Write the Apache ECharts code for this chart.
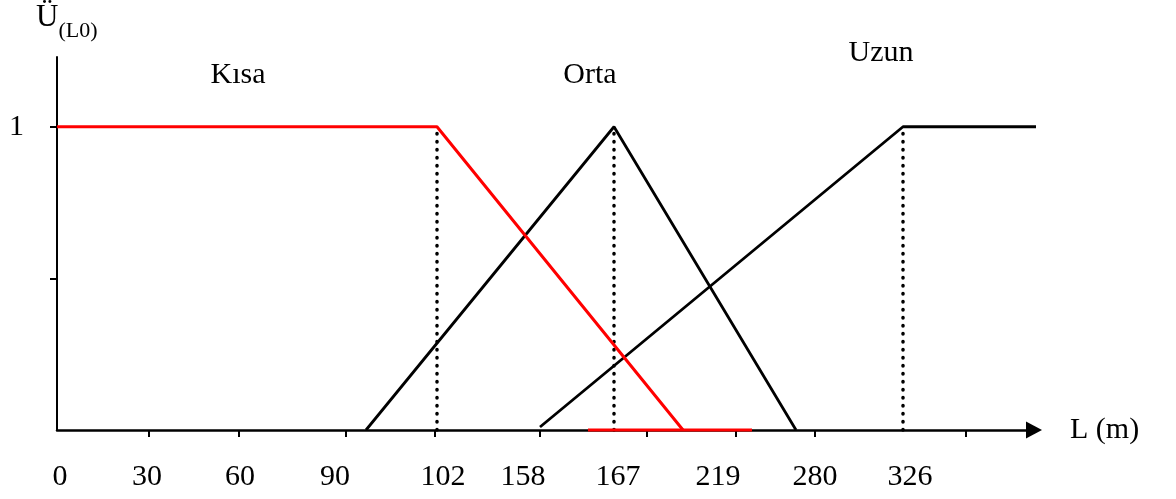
<!DOCTYPE html>
<html>
<head>
<meta charset="utf-8">
<script src="https://cdn.jsdelivr.net/npm/echarts@6/dist/echarts.min.js"></script>
<style>
html,body{margin:0;padding:0;background:#fff;}
#chart{width:1176px;height:499px;}
</style>
</head>
<body>
<div id="chart"></div>
<script>
// Schematic L axis: positions along the drawn axis (arbitrary units) and their labels
const tickLabels = ['0', '30', '60', '90', '102', '158', '167', '219', '280', '326'];
const labelPos   = [3, 90, 183, 278, 386, 466, 561, 661, 758, 853];
const tickMarkPos = [92, 182, 289, 378, 483, 590, 679, 758, 909];

// Membership functions: [position, membership]
const kisa     = [[0, 1], [380, 1], [626, 0]];
const kisaBase = [[531, 0], [695, 0]];
const orta     = [[309, 0], [557, 1], [739, 0]];
const uzun     = [[483, 0.01], [846, 1], [1027, 1]];
// Dotted guide positions (peaks / shoulders)
const guides   = [380, 557, 846];

const setNames = ['Kısa', 'Orta', 'Uzun'];

const FONT = 'Liberation Serif';
const chart = echarts.init(document.getElementById('chart'));

const option = {
  animation: false,
  backgroundColor: '#fff',
  grid: { left: 57, right: 142, top: 57, bottom: 69, containLabel: false },
  xAxis: {
    type: 'value', min: 0, max: 977,
    name: 'L (m)', nameLocation: 'end', nameGap: 36,
    nameTextStyle: { fontFamily: FONT, fontSize: 30, color: '#000', padding: [0, 0, 18, 0] },
    axisLine: { show: true, symbol: ['none', 'triangle'], symbolSize: [17, 16],
      lineStyle: { color: '#000', width: 2.5 } },
    axisTick: { show: true, length: 7, customValues: tickMarkPos, lineStyle: { color: '#000', width: 2 } },
    axisLabel: {
      customValues: labelPos, margin: 32,
      fontFamily: FONT, fontSize: 30, color: '#000',
      formatter: v => { const i = labelPos.indexOf(v); return i >= 0 ? tickLabels[i] : ''; }
    },
    splitLine: { show: false }
  },
  yAxis: {
    type: 'value', min: 0, max: 1.23,
    axisLine: { show: true, lineStyle: { color: '#000', width: 2 } },
    axisTick: { show: true, length: 7, customValues: [0.5, 1], lineStyle: { color: '#000', width: 2 } },
    axisLabel: { customValues: [1], margin: 33, fontFamily: FONT, fontSize: 30, color: '#000',
      formatter: v => String(v) },
    splitLine: { show: false }
  },
  graphic: [
    { type: 'text', left: 36, top: 2, z: 10,
      style: { text: '{a|Ü}{b|(L0)}', fill: '#000',
        rich: {
          a: { fontFamily: FONT, fontSize: 31, lineHeight: 40, verticalAlign: 'top', fill: '#000' },
          b: { fontFamily: FONT, fontSize: 22, lineHeight: 22, verticalAlign: 'bottom', fill: '#000' }
        } } },
    { type: 'text', x: 238, y: 75, style: { text: setNames[0], font: '30px "Liberation Serif"', fill: '#000', align: 'center', verticalAlign: 'middle' } },
    { type: 'text', x: 590, y: 75, style: { text: setNames[1], font: '30px "Liberation Serif"', fill: '#000', align: 'center', verticalAlign: 'middle' } },
    { type: 'text', x: 881, y: 53, style: { text: setNames[2], font: '30px "Liberation Serif"', fill: '#000', align: 'center', verticalAlign: 'middle' } }
  ],
  series: [
    { name: 'Kısa', type: 'line', data: kisa, symbol: 'none', clip: false, z: 5,
      lineStyle: { color: '#ff0000', width: 3 } },
    { name: 'Kısa (taban)', type: 'line', data: kisaBase, symbol: 'none', clip: false, z: 5,
      lineStyle: { color: '#ff0000', width: 3 } },
    { name: 'Orta', type: 'line', data: orta, symbol: 'none', clip: false, z: 4,
      lineStyle: { color: '#000', width: 2.8 } },
    { name: 'Uzun', type: 'line', data: uzun, symbol: 'none', clip: false, z: 4,
      lineStyle: { color: '#000', width: 2.8 } },
    { name: 'guides', type: 'line', data: [], symbol: 'none', z: 6,
      markLine: {
        silent: true, symbol: 'none', label: { show: false },
        lineStyle: { color: '#000', width: 3.5, type: [0.5, 7.5], cap: 'round' },
        data: guides.map(g => [{ coord: [g, 0] }, { coord: [g, 1] }])
      } }
  ]
};
chart.setOption(option);
</script>
</body>
</html>
